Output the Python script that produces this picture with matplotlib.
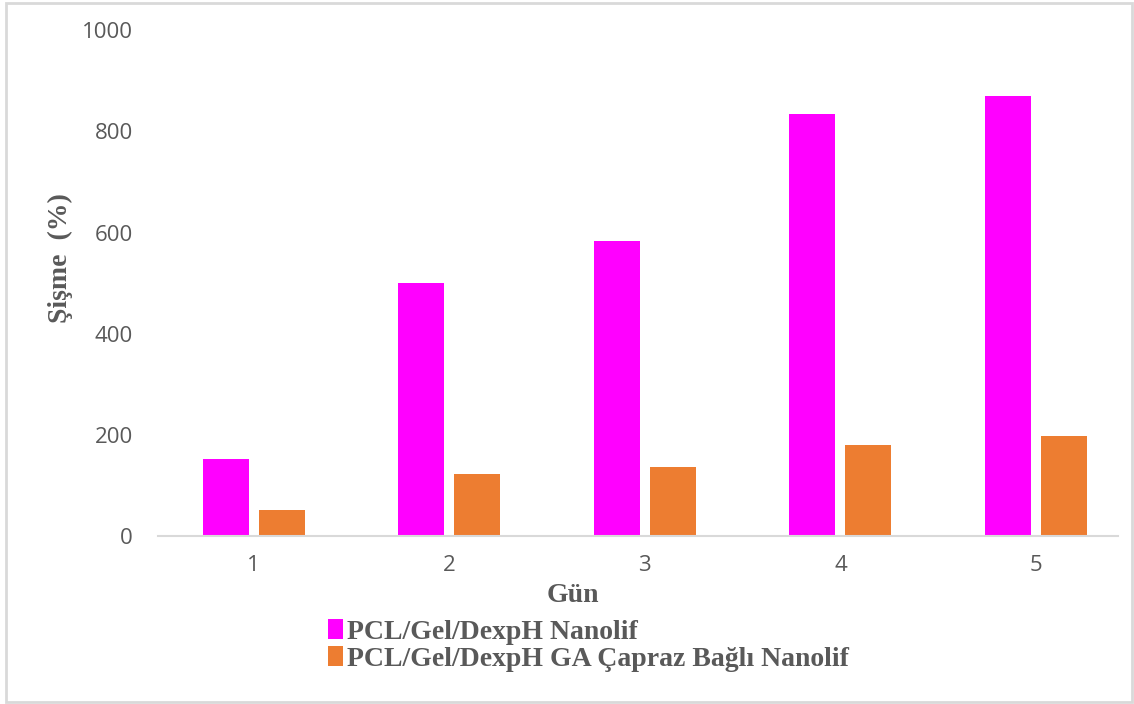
import matplotlib.pyplot as plt
import numpy as np
from matplotlib.patches import Rectangle

# swelling data per day
days = ['1', '2', '3', '4', '5']
nanolif = [152, 500, 583, 835, 870]
capraz = [51, 122, 136, 180, 198]
series_names = ['PCL/Gel/DexpH Nanolif', 'PCL/Gel/DexpH GA Çapraz Bağlı Nanolif']

fig = plt.figure(figsize=(11.34, 7.04), dpi=100)
ax = fig.add_axes([0.139, 0.2386, 0.847, 0.7184])

x = np.arange(len(days))
w = 0.235
ax.bar(x - 0.143, nanolif, w, color='#ff00ff', label=series_names[0])
ax.bar(x + 0.143, capraz, w, color='#ed7d31', label=series_names[1])

ax.set_xlim(-0.491, 4.42)
ax.set_ylim(0, 1000)
ax.set_yticks(range(0, 1001, 200))
ax.set_xticks(x)
ax.set_xticklabels(days)

for s in ['top', 'right', 'left']:
    ax.spines[s].set_visible(False)
ax.spines['bottom'].set_color('#d9d9d9')
ax.spines['bottom'].set_linewidth(1.5)
ax.tick_params(length=0, labelsize=16, labelcolor='#595959')
ax.tick_params(axis='y', pad=18)
ax.tick_params(axis='x', pad=14)
for t in ax.get_xticklabels() + ax.get_yticklabels():
    t.set_fontfamily('Open Sans')

serif = dict(family='Liberation Serif', weight='bold', color='#595959', size=20)
ax.set_xlabel('Gün', **serif)
ax.xaxis.set_label_coords(0.432, -0.093)
ax.set_ylabel('Şişme  (%)', **serif)
ax.yaxis.set_label_coords(-0.0885, 0.549)

leg = fig.legend(loc='upper left', bbox_to_anchor=(0.289, 0.121), frameon=False,
                 handlelength=0.55, handleheight=0.75, handletextpad=0.15,
                 labelspacing=0.05, borderpad=0, borderaxespad=0,
                 prop={'family': 'Liberation Serif', 'weight': 'bold', 'size': 20})
for t in leg.get_texts():
    t.set_color('#595959')

# thin frame round the whole chart
fig.patches.append(Rectangle((6 / 1134, 2 / 704), 1126 / 1134, 699 / 704,
                             transform=fig.transFigure, fill=False,
                             edgecolor='#d9d9d9', linewidth=2))

fig.savefig('out.png', dpi=100)
